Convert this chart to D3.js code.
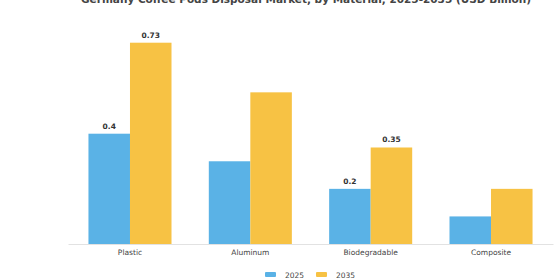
<!DOCTYPE html>
<html lang="en">
<head>
<meta charset="UTF-8">
<script src="https://d3js.org/d3.v7.min.js"></script>
<style>
  body { margin: 0; background: white; font-family: "DejaVu Sans", sans-serif; }
</style>
</head>
<body>
<div id="chart"></div>
<script>
// chart data
const categories = ["Plastic", "Aluminum", "Biodegradable", "Composite"];
const seriesNames = ["2025", "2035"];
const values2025 = [0.4, 0.3, 0.2, 0.1];
const values2035 = [0.73, 0.55, 0.35, 0.2];
const shownLabels = ["Plastic", "Biodegradable"];
const title = "Germany Coffee Pods Disposal Market, by Material, 2025-2035 (USD Billion)";

const W = 560, H = 280;
const colors = ["#5AB2E6", "#F7C244"];

const svg = d3.select("#chart").append("svg")
    .attr("width", W).attr("height", H);

const x = d3.scaleBand().domain(categories).range([68, 553])
    .paddingInner(0.31).paddingOuter(0.17);
const x1 = d3.scaleBand().domain(seriesNames).range([0, x.bandwidth()]);
const y = d3.scaleLinear().domain([0, 0.8]).range([244, 23.4]);

// title (partly above the top edge, as in the source)
svg.append("text")
    .attr("x", 306).attr("y", 2.5)
    .attr("text-anchor", "middle")
    .attr("font-size", 10.5).attr("font-weight", "bold")
    .attr("fill", "#444")
    .text(title);

// baseline axis
const ax = svg.append("g").attr("transform", "translate(0,244)")
    .call(d3.axisBottom(x).tickSize(0).tickPadding(6));
ax.select(".domain").attr("stroke", "#e2e2e2");
ax.selectAll("text").attr("font-size", 7.5).attr("fill", "#444")
    .attr("font-family", "'DejaVu Sans', sans-serif");

const rows = categories.map((c, i) => ({ cat: c, vals: [values2025[i], values2035[i]] }));

const groups = svg.selectAll("g.grp").data(rows).enter().append("g")
    .attr("class", "grp")
    .attr("transform", d => `translate(${x(d.cat)},0)`);

groups.selectAll("rect").data(d => d.vals.map((v, j) => ({ v, s: seriesNames[j], j, cat: d.cat })))
    .enter().append("rect")
    .attr("x", d => x1(d.s))
    .attr("width", x1.bandwidth())
    .attr("y", d => y(d.v))
    .attr("height", d => y(0) - y(d.v))
    .attr("fill", d => colors[d.j]);

groups.selectAll("text.val").data(d => shownLabels.includes(d.cat)
        ? d.vals.map((v, j) => ({ v, s: seriesNames[j] })) : [])
    .enter().append("text")
    .attr("class", "val")
    .attr("x", d => x1(d.s) + x1.bandwidth() / 2)
    .attr("y", d => y(d.v) - 5)
    .attr("text-anchor", "middle")
    .attr("font-size", 7.5).attr("font-weight", "bold")
    .attr("fill", "#333")
    .text(d => d.v);

// legend
const legend = svg.append("g").attr("transform", "translate(265,275)");
seriesNames.forEach((s, i) => {
  const g = legend.append("g").attr("transform", `translate(${i * 51},0)`);
  g.append("rect").attr("x", 0).attr("y", -3).attr("width", 11).attr("height", 5)
      .attr("rx", 1).attr("fill", colors[i]);
  g.append("text").attr("x", 20).attr("y", 2.5)
      .attr("font-size", 7.5).attr("fill", "#444").text(s);
});
</script>
</body>
</html>
